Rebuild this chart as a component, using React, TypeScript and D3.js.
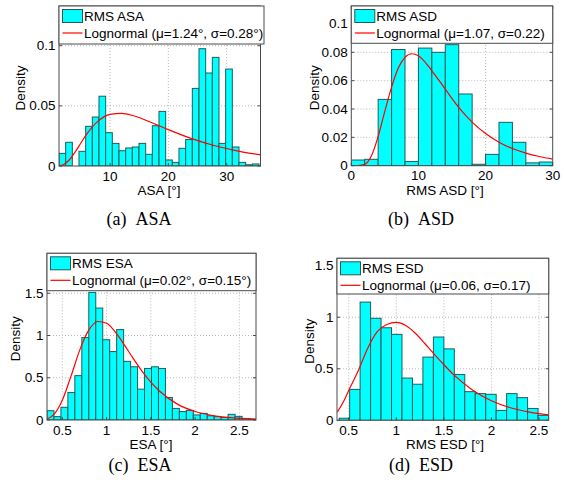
import React, { useRef, useEffect } from 'react';
import * as d3 from 'd3';

// histogram densities (one value per bin)
const asaDensity = [0.0105, 0.0197, 0, 0.0122, 0.033, 0.0407, 0.058, 0.0277, 0.0188, 0.0127, 0.015, 0.0158, 0.0188, 0.0097, 0.0335,
  0.0454, 0.005, 0.003, 0.0147, 0.022, 0.0645, 0.0975, 0.0773, 0.0903, 0.0188, 0.0806, 0.0158, 0.003, 0.001, 0.0017];
const asdDensity = [0.004, 0.0045, 0.0468, 0.082, 0.003, 0.083, 0.08, 0.0854, 0.0506, 0.001, 0.008, 0.0306, 0.0165, 0.002, 0.0026];
const esaDensity = [0.11, 0.04, 0.15, 0.325, 0.525, 0.976, 1.51, 1.325, 0.95, 0.81, 1.07, 0.694, 0.63, 0.365, 0.61,
  0.63, 0.61, 0.267, 0.137, 0.1, 0.114, 0.06, 0.078, 0.05, 0.04, 0.03, 0.067, 0.043, 0.016, 0.008];
const esdDensity = [0.02, 0.3, 1.147, 0.99, 0.898, 0.834, 0.41, 0.35, 0.613, 0.808, 0.693, 0.444, 0.278, 0.259, 0.252,
  0.096, 0.259, 0.22, 0.115, 0.048];

// first bin edge and bin width
const asaBins = [1.25, 1.143];
const asdBins = [0, 2];
const esaBins = [0.327, 0.0787];
const esdBins = [0.4, 0.11];

// lognormal fit, sampled from the figure
const asaFitX = [1.25, 2, 3, 4, 5, 6, 8, 10, 12, 14, 17, 20, 24, 28, 32, 36];
const asaFitY = [0.0001, 0.0011, 0.005, 0.0115, 0.0191, 0.0265, 0.0375, 0.0429, 0.0437, 0.0418, 0.0364, 0.0302, 0.0227, 0.0168, 0.0124, 0.0091];
const asdFitX = [1, 2, 3, 4, 5, 6, 7, 8, 9, 10, 12, 14, 16, 18, 20, 22, 24, 26, 28, 30];
const asdFitY = [0, 0.0009, 0.007, 0.0207, 0.0385, 0.0555, 0.069, 0.0765, 0.079, 0.0776, 0.067, 0.054, 0.0412, 0.0308, 0.0227, 0.0166, 0.0121, 0.0089, 0.0065, 0.0047];
const esaFitX = [0.33, 0.4, 0.5, 0.6, 0.7, 0.8, 0.9, 1.0, 1.1, 1.2, 1.3, 1.4, 1.5, 1.6, 1.8, 2.0, 2.2, 2.4, 2.69];
const esaFitY = [0.013, 0.06, 0.234, 0.525, 0.836, 1.066, 1.166, 1.145, 1.039, 0.89, 0.73, 0.579, 0.448, 0.34, 0.188, 0.1, 0.052, 0.027, 0.01];
const esdFitX = [0.38, 0.45, 0.5, 0.6, 0.7, 0.8, 0.9, 1.0, 1.1, 1.2, 1.3, 1.4, 1.5, 1.6, 1.8, 2.0, 2.2, 2.4, 2.6];
const esdFitY = [0.08, 0.19, 0.29, 0.48, 0.7, 0.86, 0.93, 0.95, 0.92, 0.845, 0.745, 0.64, 0.54, 0.445, 0.295, 0.19, 0.122, 0.08, 0.052];

const asaXTicks = [10, 20, 30];
const asaYTicks = [0, 0.05, 0.1];
const asdXTicks = [0, 10, 20, 30];
const asdYTicks = [0, 0.02, 0.04, 0.06, 0.08, 0.1];
const esXTicks = [0.5, 1, 1.5, 2, 2.5];
const esYTicks = [0, 0.5, 1, 1.5];

const histLabels = ['RMS ASA', 'RMS ASD', 'RMS ESA', 'RMS ESD'];
const fitLabels = [
  'Lognormal (\u03bc=1.24\u00b0, \u03c3=0.28\u00b0)',
  'Lognormal (\u03bc=1.07, \u03c3=0.22)',
  'Lognormal (\u03bc=0.02\u00b0, \u03c3=0.15\u00b0)',
  'Lognormal (\u03bc=0.06, \u03c3=0.17)',
];
const xLabels = ['ASA [\u00b0]', 'RMS ASD [\u00b0]', 'ESA [\u00b0]', 'RMS ESD [\u00b0]'];
const captions = ['(a)\u00a0\u00a0ASA', '(b)\u00a0\u00a0ASD', '(c)\u00a0\u00a0ESA', '(d)\u00a0\u00a0ESD'];

const panels = [
  { density: asaDensity, bins: asaBins, fitX: asaFitX, fitY: asaFitY, xTicks: asaXTicks, yTicks: asaYTicks,
    left: 59, right: 260.5, top: 6, bottom: 166, xDomain: [1.25, 35.8], yMax: 0.133,
    legend: [59, 264, 6, 44], xLabelX: 159, ylabX: 20, capX: 139, capY: 219 },
  { density: asdDensity, bins: asdBins, fitX: asdFitX, fitY: asdFitY, xTicks: asdXTicks, yTicks: asdYTicks,
    left: 351.3, right: 552.7, top: 6, bottom: 165.7, xDomain: [0, 30], yMax: 0.1127,
    legend: [351.3, 552.7, 6, 43.3], xLabelX: 445, ylabX: 314, capX: 421, capY: 219 },
  { density: esaDensity, bins: esaBins, fitX: esaFitX, fitY: esaFitY, xTicks: esXTicks, yTicks: esYTicks,
    left: 47, right: 256, top: 253.3, bottom: 420, xDomain: [0.327, 2.688], yMax: 1.973,
    legend: [47, 256, 253.3, 290.7], xLabelX: 151, ylabX: 15, capX: 140, capY: 465 },
  { density: esdDensity, bins: esdBins, fitX: esdFitX, fitY: esdFitY, xTicks: esXTicks, yTicks: esYTicks,
    left: 337, right: 548.7, top: 258.3, bottom: 420.3, xDomain: [0.377, 2.602], yMax: 1.572,
    legend: [337, 548.7, 258.3, 294], xLabelX: 445, ylabX: 309, capX: 421, capY: 465 },
];

const frameColor = '#4a4a4a';
const sans = '"Liberation Sans", Arial, Helvetica, sans-serif';
const fontSize = '13.5px';

const App = () => {
  const svgRef = useRef(null);

  useEffect(() => {
    const svg = d3.select(svgRef.current);
    svg.selectAll('*').remove();

    panels.forEach((p, i) => {
      const x = d3.scaleLinear().domain(p.xDomain).range([p.left, p.right]);
      const y = d3.scaleLinear().domain([0, p.yMax]).range([p.bottom, p.top]);
      const g = svg.append('g');

      const clipId = `clip-${i}`;
      svg.append('clipPath').attr('id', clipId)
        .append('rect')
        .attr('x', p.left).attr('y', p.top)
        .attr('width', p.right - p.left).attr('height', p.bottom - p.top);

      // grid
      g.selectAll('.gx').data(p.xTicks.filter(t => x(t) > p.left + 1 && x(t) < p.right - 1)).enter()
        .append('line')
        .attr('x1', d => x(d)).attr('x2', d => x(d))
        .attr('y1', p.top).attr('y2', p.bottom)
        .attr('stroke', '#b8b8b8').attr('stroke-dasharray', '1,2');
      g.selectAll('.gy').data(p.yTicks.filter(t => t > 0)).enter()
        .append('line')
        .attr('x1', p.left).attr('x2', p.right)
        .attr('y1', d => y(d)).attr('y2', d => y(d))
        .attr('stroke', '#b8b8b8').attr('stroke-dasharray', '1,2');

      // histogram bars
      const [start, w] = p.bins;
      g.append('g').attr('clip-path', `url(#${clipId})`)
        .selectAll('rect').data(p.density).enter()
        .append('rect')
        .attr('x', (d, k) => x(start + k * w))
        .attr('width', (d, k) => x(start + (k + 1) * w) - x(start + k * w))
        .attr('y', d => y(d))
        .attr('height', d => y(0) - y(d))
        .attr('fill', '#00ffff')
        .attr('stroke', '#1f5c5c')
        .attr('stroke-width', 1);

      // lognormal fit
      const pts = p.fitX.map((v, k) => [v, p.fitY[k]]);
      const line = d3.line().x(d => x(d[0])).y(d => y(d[1])).curve(d3.curveMonotoneX);
      g.append('path')
        .datum(pts)
        .attr('clip-path', `url(#${clipId})`)
        .attr('fill', 'none')
        .attr('stroke', '#ff0000')
        .attr('stroke-width', 1.2)
        .attr('d', line);

      // frame
      g.append('rect')
        .attr('x', p.left).attr('y', p.top)
        .attr('width', p.right - p.left).attr('height', p.bottom - p.top)
        .attr('fill', 'none').attr('stroke', frameColor);

      // inward ticks on all sides
      const tl = 3;
      p.xTicks.forEach(t => {
        g.append('line').attr('x1', x(t)).attr('x2', x(t)).attr('y1', p.bottom).attr('y2', p.bottom - tl).attr('stroke', frameColor);
        g.append('line').attr('x1', x(t)).attr('x2', x(t)).attr('y1', p.top).attr('y2', p.top + tl).attr('stroke', frameColor);
      });
      p.yTicks.forEach(t => {
        g.append('line').attr('x1', p.left).attr('x2', p.left + tl).attr('y1', y(t)).attr('y2', y(t)).attr('stroke', frameColor);
        g.append('line').attr('x1', p.right).attr('x2', p.right - tl).attr('y1', y(t)).attr('y2', y(t)).attr('stroke', frameColor);
      });

      // tick labels
      g.selectAll('.xt').data(p.xTicks).enter()
        .append('text')
        .attr('x', d => x(d)).attr('y', p.bottom + 10)
        .attr('text-anchor', 'middle').attr('dominant-baseline', 'central')
        .style('font-family', sans).style('font-size', fontSize)
        .text(d => String(d));
      g.selectAll('.yt').data(p.yTicks).enter()
        .append('text')
        .attr('x', p.left - 3.5).attr('y', d => y(d))
        .attr('text-anchor', 'end').attr('dominant-baseline', 'central')
        .style('font-family', sans).style('font-size', fontSize)
        .text(d => String(d));

      // axis labels
      g.append('text')
        .attr('x', p.xLabelX).attr('y', p.bottom + 24.5)
        .attr('text-anchor', 'middle').attr('dominant-baseline', 'central')
        .style('font-family', sans).style('font-size', fontSize)
        .text(xLabels[i]);
      g.append('text')
        .attr('transform', `translate(${p.ylabX},${(p.top + p.bottom) / 2 + 2}) rotate(-90)`)
        .attr('text-anchor', 'middle').attr('dominant-baseline', 'central')
        .style('font-family', sans).style('font-size', fontSize)
        .text('Density');

      // legend
      const [lx0, lx1, ly0, ly1] = p.legend;
      const lg = g.append('g');
      lg.append('rect')
        .attr('x', lx0).attr('y', ly0)
        .attr('width', lx1 - lx0).attr('height', ly1 - ly0)
        .attr('fill', '#ffffff').attr('stroke', frameColor);
      lg.append('rect')
        .attr('x', lx0 + 3.5).attr('y', ly0 + 3.5)
        .attr('width', 20).attr('height', 13)
        .attr('fill', '#00ffff').attr('stroke', '#1f5c5c');
      lg.append('line')
        .attr('x1', lx0 + 3.5).attr('x2', lx0 + 23.5)
        .attr('y1', ly0 + 27).attr('y2', ly0 + 27)
        .attr('stroke', '#ff0000').attr('stroke-width', 1.2);
      lg.append('text')
        .attr('x', lx0 + 25).attr('y', ly0 + 10)
        .attr('dominant-baseline', 'central')
        .style('font-family', sans).style('font-size', fontSize)
        .text(histLabels[i]);
      lg.append('text')
        .attr('x', lx0 + 25).attr('y', ly0 + 27)
        .attr('dominant-baseline', 'central')
        .style('font-family', sans).style('font-size', fontSize)
        .text(fitLabels[i]);

      // caption
      g.append('text')
        .attr('x', p.capX).attr('y', p.capY)
        .attr('text-anchor', 'middle').attr('dominant-baseline', 'central')
        .style('font-family', '"Liberation Serif", "Times New Roman", serif').style('font-size', '18px')
        .text(captions[i]);
    });
  }, []);

  return (
    <svg ref={svgRef} width={564} height={487}
      style={{ position: 'absolute', left: 0, top: 0, background: '#fff' }} />
  );
};

export default App;
